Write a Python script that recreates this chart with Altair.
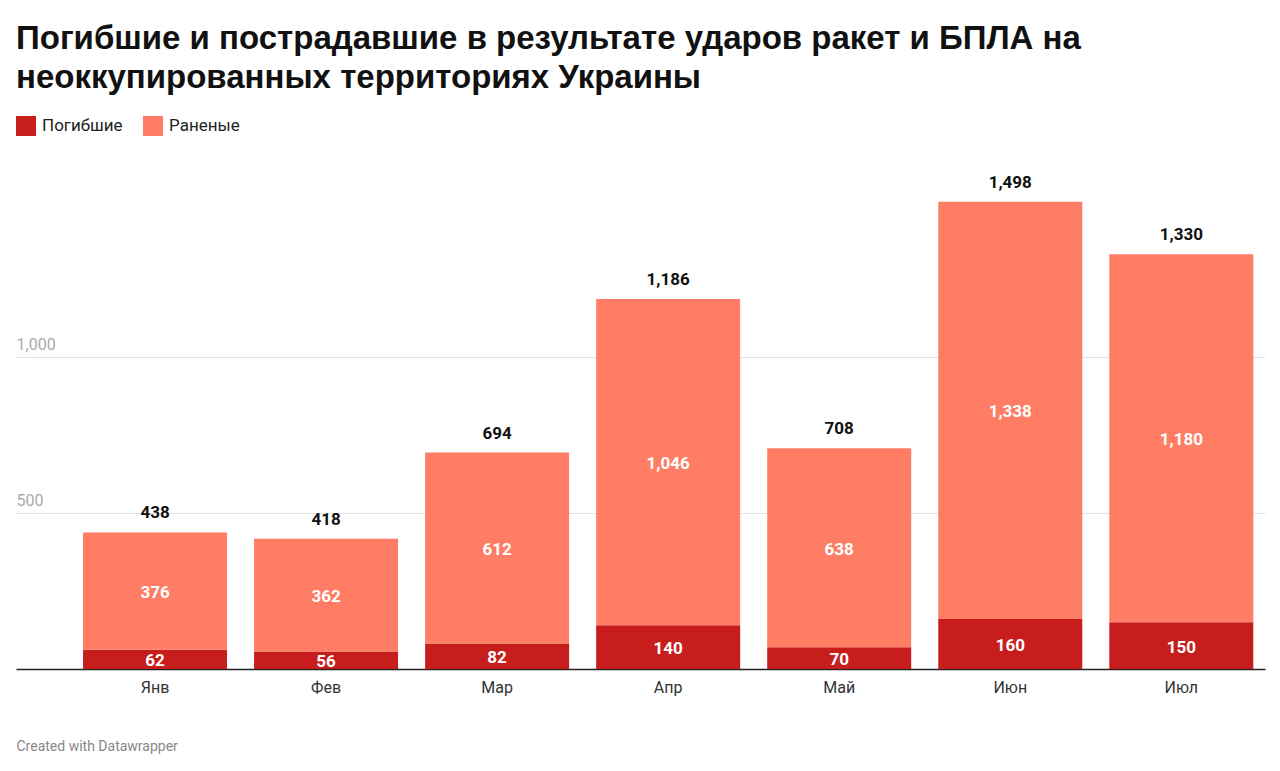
import altair as alt
import pandas as pd

months = ["Янв", "Фев", "Мар", "Апр", "Май", "Июн", "Июл"]
killed = [62, 56, 82, 140, 70, 160, 150]
wounded = [376, 362, 612, 1046, 638, 1338, 1180]
totals = [438, 418, 694, 1186, 708, 1498, 1330]

rows = []
for m, k, w in zip(months, killed, wounded):
    rows.append({"Месяц": m, "Тип": "Погибшие", "n": k, "y0": 0, "y1": k, "order": 0})
    rows.append({"Месяц": m, "Тип": "Раненые", "n": w, "y0": k, "y1": k + w, "order": 1})
df = pd.DataFrame(rows)
df["mid"] = (df["y0"] + df["y1"]) / 2
tot = pd.DataFrame({"Месяц": months, "total": totals})

FONT = "Roboto"
x = alt.X("Месяц:N", sort=months,
          scale=alt.Scale(paddingInner=0.16, paddingOuter=0.231, align=0.85),
          axis=alt.Axis(title="Created with Datawrapper", titleAnchor="start",
                        titleColor="#888888", titleFontSize=14, titleFontWeight="normal",
                        titleFont=FONT, titlePadding=44, labelAngle=0, labelFontSize=16,
                        labelColor="#333333", labelFont=FONT, labelPadding=10,
                        tickSize=0, domainColor="#222222", domainWidth=1.5))
yscale = alt.Scale(domain=[0, 1600], nice=False)

bars = alt.Chart(df).mark_bar(size=144).encode(
    x=x,
    y=alt.Y("y0:Q", scale=yscale, title=None,
            axis=alt.Axis(values=[500, 1000], format=",d", grid=True, gridColor="#e2e2e2",
                          domain=False, ticks=False, labelAlign="left", labelPadding=0,
                          labelBaseline="bottom", labelOffset=-5, labelFontSize=16,
                          labelColor="#aaaaaa", labelFont=FONT)),
    y2="y1:Q",
    color=alt.Color("Тип:N", sort=["Погибшие", "Раненые"],
                    scale=alt.Scale(domain=["Погибшие", "Раненые"], range=["#c71e1d", "#fe7d64"]),
                    legend=alt.Legend(title=None, orient="top", direction="horizontal",
                                      symbolType="square", symbolSize=400, symbolStrokeWidth=0,
                                      labelFontSize=17, labelFont=FONT, labelColor="#222222",
                                      offset=34, padding=0, columnPadding=20, labelOffset=6)),
)

seg_text = alt.Chart(df).mark_text(color="white", fontWeight="bold", fontSize=17, font=FONT,
                                   baseline="middle", dy=2).encode(
    x=alt.X("Месяц:N", sort=months), y=alt.Y("mid:Q", scale=yscale), text=alt.Text("n:Q", format=","))

tot_text = alt.Chart(tot).mark_text(color="#111111", fontWeight="bold", fontSize=17, font=FONT,
                                    baseline="bottom", dy=-10).encode(
    x=alt.X("Месяц:N", sort=months), y=alt.Y("total:Q", scale=yscale), text=alt.Text("total:Q", format=","))

chart = alt.layer(bars, seg_text, tot_text).properties(
    width=1249, height=499,
    padding={"left": 8, "top": 15, "right": 7, "bottom": 5},
    title=alt.Title(["Погибшие и пострадавшие в результате ударов ракет и БПЛА на",
                     "неоккупированных территориях Украины"],
                    anchor="start", fontSize=33, fontWeight="bold", font="Liberation Sans",
                    color="#111111", lineHeight=39, offset=21),
).configure_view(stroke=None)

chart.save("out.html", embed_options={"renderer": "svg", "actions": False})
